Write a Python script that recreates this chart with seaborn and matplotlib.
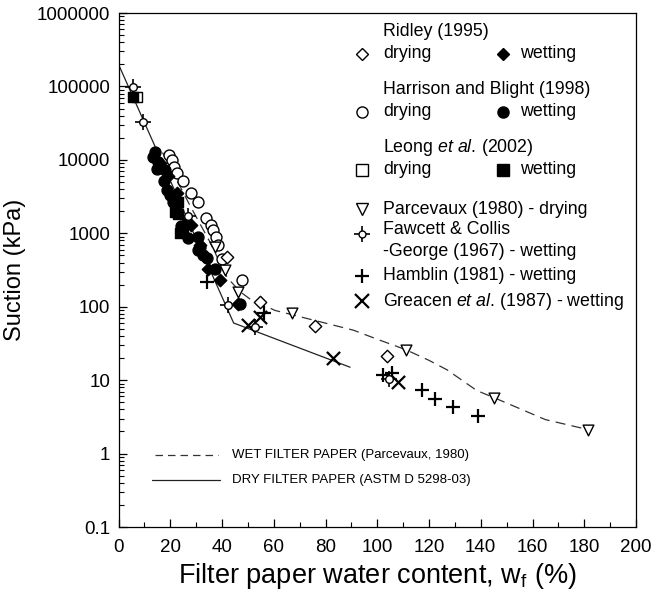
import matplotlib
matplotlib.use("Agg")
import matplotlib.pyplot as plt
import matplotlib.ticker as mticker
import seaborn as sns
import pandas as pd

# ---------------- data (w %, suction kPa) ----------------
ridley_dry_w = [41.8, 54.7, 76.0, 103.6]
ridley_dry_s = [480, 117, 54, 21]
ridley_wet_w = [16.0, 19.0, 22.5, 28.0, 31.5, 34.7, 39.2, 46.3]
ridley_wet_s = [9000, 6000, 3500, 1300, 700, 330, 230, 110]

harrison_dry_w = [19.6, 20.6, 21.4, 22.7, 25.0, 27.9, 30.7, 33.9, 35.9, 36.6, 37.7, 38.5, 39.9, 47.6]
harrison_dry_s = [11500, 10000, 8000, 6600, 5200, 3500, 2700, 1600, 1300, 1100, 890, 690, 450, 230]
harrison_wet_w = [14.1, 13.5, 15.4, 14.8, 18.0, 17.6, 18.6, 19.8, 21.0, 22.3, 24.3, 26.4, 27.0,
                  30.7, 31.5, 30.8, 32.8, 34.1, 37.3, 47.0]
harrison_wet_s = [12800, 11000, 9300, 7400, 7200, 5200, 3900, 3300, 2700, 2000, 1250, 1400, 850,
                  900, 650, 590, 500, 460, 330, 110]

leong_dry_w = [7.3]
leong_dry_s = [71000]
leong_wet_w = [5.6, 23.0, 21.8, 23.0, 23.8, 25.0]
leong_wet_s = [71000, 2700, 1950, 1850, 1000, 1050]

parcevaux_w = [37.3, 41.3, 46.3, 67.0, 111.0, 145.0, 181.6]
parcevaux_s = [650, 314, 158, 81, 26, 5.8, 2.1]

fawcett_w = [5.6, 9.5, 27.0, 42.4, 52.8, 104.7]
fawcett_s = [98000, 32500, 1700, 105, 53, 10.5]

hamblin_w = [34.3, 56.2, 102.3, 105.6, 117.2, 122.3, 129.4, 139.0]
hamblin_s = [217, 81, 11.7, 12.6, 7.3, 5.5, 4.3, 3.2]

greacen_w = [50.2, 54.5, 83.0, 108.1]
greacen_s = [57, 72, 20, 9.5]

wet_paper_w = [17, 27.6, 35, 42, 47, 51, 60.5, 90.7, 101, 111, 120, 127, 138.5, 145, 165, 182]
wet_paper_s = [12600, 2400, 800, 250, 160, 126, 89, 48, 35, 26, 18.6, 13.8, 7.2, 5.8, 2.9, 2.1]

dry_paper_w = [0, 44.5, 89.5]
dry_paper_s = [200000, 60, 15]

y_ticks = [0.1, 1, 10, 100, 1000, 10000, 100000, 1000000]
y_tick_labels = ["0.1", "1", "10", "100", "1000", "10000", "100000", "1000000"]
x_ticks = [0, 20, 40, 60, 80, 100, 120, 140, 160, 180, 200]

# ---------------- style ----------------
sns.set_theme(style="ticks")
plt.rcParams["font.family"] = ["Liberation Sans", "DejaVu Sans"]
plt.rcParams["mathtext.fontset"] = "custom"
plt.rcParams["mathtext.rm"] = "Liberation Sans"
plt.rcParams["mathtext.it"] = "Liberation Sans:italic"
plt.rcParams["text.color"] = "black"
plt.rcParams["axes.labelcolor"] = "black"

W, H = 653, 597
fig = plt.figure(figsize=(W / 100, H / 100), dpi=100)
L, R, T, B = 118.5, 636, 13, 527
ax = fig.add_axes([L / W, 1 - B / H, (R - L) / W, (B - T) / H])

# curves
sns.lineplot(x=wet_paper_w, y=wet_paper_s, ax=ax, color="#333333", lw=0.9,
             dashes=False, linestyle=(0, (8, 5)), sort=False, estimator=None)
sns.lineplot(x=dry_paper_w, y=dry_paper_s, ax=ax, color="#222222", lw=0.9,
             sort=False, estimator=None)

ms = 62
def sc(xs, ys, marker, fc, s=ms, lw=1.0, z=3):
    if marker in ("+", "x"):
        sns.scatterplot(x=xs, y=ys, marker=marker, color="black", s=s, linewidth=lw, ax=ax, zorder=z)
    else:
        sns.scatterplot(x=xs, y=ys, marker=marker, s=s, facecolor=fc, edgecolor="black",
                        linewidth=lw, ax=ax, zorder=z)

sc(harrison_dry_w, harrison_dry_s, "o", "white")
sc(ridley_dry_w, ridley_dry_s, "D", "white", s=40)
sc(parcevaux_w, parcevaux_s, "v", "white", s=60)
sc(leong_dry_w, leong_dry_s, "s", "white", s=55)
sc(harrison_wet_w, harrison_wet_s, "o", "black")
sc(ridley_wet_w, ridley_wet_s, "D", "black", s=40)
sc(leong_wet_w, leong_wet_s, "s", "black", s=60)
sc(fawcett_w, fawcett_s, "+", None, s=140, lw=1.2, z=4)
sc(fawcett_w, fawcett_s, "o", "white", s=30, z=5)
sc(hamblin_w, hamblin_s, "+", None, s=90, lw=1.6)
sc(greacen_w, greacen_s, "x", None, s=90, lw=1.6)

# axes
ax.set_yscale("log")
ax.set_xlim(0, 200)
ax.set_ylim(0.1, 1e6)
ax.yaxis.set_major_locator(mticker.FixedLocator(y_ticks))
ax.yaxis.set_major_formatter(mticker.FixedFormatter(y_tick_labels))
ax.yaxis.set_minor_locator(mticker.LogLocator(base=10, subs=[2, 3, 4, 5, 6, 7, 8, 9], numticks=20))
ax.yaxis.set_minor_formatter(mticker.NullFormatter())
ax.set_xticks(x_ticks)
ax.xaxis.set_minor_locator(mticker.MultipleLocator(10))
ax.tick_params(which="both", direction="in", color="black", top=False, right=False,
               labelsize=13.5, labelcolor="black", pad=6)
ax.tick_params(axis="x", pad=9)
ax.tick_params(which="major", length=6, width=0.9)
ax.tick_params(which="minor", length=3.5, width=0.8)
for sp in ax.spines.values():
    sp.set_visible(True)
    sp.set_color("black")
    sp.set_linewidth(0.9)
ax.set_xlabel(r"Filter paper water content, w$_{\rm f}$ (%)", fontsize=19.5, labelpad=3)
ax.set_ylabel("Suction (kPa)", fontsize=17, labelpad=8)

# ---------------- manual legend ----------------
def P(x, y):
    return ((x - L) / (R - L), (B - y) / (B - T))

fs = 12.8
tx, mx, wx, wtx = 383, 362, 503, 520
def txt(x, y, s, size=fs):
    ax.text(*P(x, y), s, transform=ax.transAxes, ha="left", va="center", fontsize=size, color="black")
def key(x, y, marker, fc, size=8, mew=1.0):
    ax.plot(*P(x, y), marker=marker, ms=size, mfc=fc, mec="black", mew=mew, color="black",
            transform=ax.transAxes, clip_on=False, ls="none")

txt(tx, 31, "Ridley (1995)")
key(mx, 54, "D", "white", 6.5); txt(tx, 54, "drying")
key(wx, 54, "D", "black", 6.5); txt(wtx, 54, "wetting")
txt(tx, 90, "Harrison and Blight (1998)")
key(mx, 112, "o", "white", 8); txt(tx, 112, "drying")
key(wx, 112, "o", "black", 8); txt(wtx, 112, "wetting")
txt(tx, 148, r"Leong $\it{et\ al.}\,$(2002)")
key(mx, 170, "s", "white", 8); txt(tx, 170, "drying")
key(wx, 170, "s", "black", 8); txt(wtx, 170, "wetting")
key(mx, 209, "v", "white", 8); txt(tx, 209, "Parcevaux (1980) - drying")
key(mx, 234, "+", "none", 11, 1.2); key(mx, 234, "o", "white", 5); txt(tx, 230, "Fawcett & Collis")
txt(tx, 251, "-George (1967) - wetting")
key(mx, 276, "+", "none", 10, 1.6); txt(tx, 276, "Hamblin (1981) - wetting")
key(mx, 301, "x", "none", 10, 1.6); txt(tx, 301, r"Greacen $\it{et\ al.}\,$(1987) - wetting")

# line legend at bottom
ax.plot([P(155, 455)[0], P(218, 455)[0]], [P(155, 455)[1]] * 2, transform=ax.transAxes,
        color="#333333", lw=0.9, ls=(0, (6, 4)))
ax.plot([P(152, 480)[0], P(220, 480)[0]], [P(152, 480)[1]] * 2, transform=ax.transAxes,
        color="#222222", lw=0.9)
txt(232, 455, "WET FILTER PAPER (Parcevaux, 1980)", 9.5)
txt(232, 480, "DRY FILTER PAPER (ASTM D 5298-03)", 9.5)

fig.savefig("out.png", dpi=100, facecolor="white")
